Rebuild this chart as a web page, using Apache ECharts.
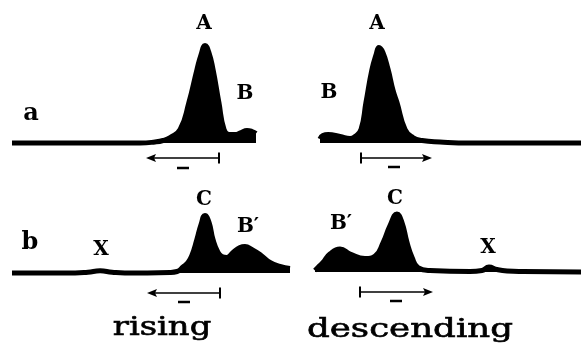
<!DOCTYPE html>
<html>
<head>
<meta charset="utf-8">
<title>rising / descending</title>
<script src="https://cdn.jsdelivr.net/npm/echarts@6/dist/echarts.min.js"></script>
<style>
body{ margin:0; background:#fff; }
#main{ width:581px; height:347px; }
</style>
</head>
<body>
<div id="main"></div>
<script type="text/javascript">
// profiles, position 0-100 across each trace, height with peak A ~ 100
var aRiseX = [0, 52.5, 58.6, 61.9, 64.8, 68.9, 72.5, 75.8, 77.5, 79.1, 80.7, 82.4, 84.8, 86.9, 88.9, 91.4, 93.9, 96.3, 98.4, 100];
var aRiseY = [0, 0, 1, 2.5, 5.5, 13.5, 40.5, 73.5, 88.5, 97.5, 90.5, 73.5, 40.5, 13.5, 8.5, 8.5, 10.5, 12.5, 11.5, 9.5];

var aDescX = [0, 1.1, 3.1, 7.7, 11.5, 13.4, 15.7, 17.6, 19.9, 21.5, 22.6, 24.1, 26.1, 28.0, 29.5, 32.6, 35.6, 39.1, 46.0, 57.5, 100];
var aDescY = [4, 7.5, 8.5, 6.5, 4.5, 6.5, 13.5, 40.5, 73.5, 88.5, 95.5, 90.5, 73.5, 52.5, 40.5, 13.5, 5.5, 2.5, 1, 0, 0];

var bRiseX = [0, 22.7, 27.3, 31.7, 36.0, 40.6, 56.8, 59.4, 61.5, 63.3, 64.7, 66.5, 68.0, 69.4, 70.9, 72.3, 74.1, 75.5, 77.3, 79.5, 82.0, 83.8, 86.3, 89.2, 92.8, 96.4, 100];
var bRiseY = [0, 0, 0.8, 2.2, 0.8, 0, 0.5, 1.5, 6, 10.5, 17.5, 33.5, 48.5, 57.5, 50.5, 33.5, 20.5, 16.5, 15.5, 20.5, 25.5, 26.5, 23.5, 18.5, 10.5, 6.5, 4.5];

var bDescX = [0, 1.1, 3.0, 5.6, 9.4, 13.2, 18.8, 22.6, 25.6, 28.2, 30.8, 32.7, 34.6, 36.5, 38.7, 43.2, 58.3, 62.8, 65.4, 68.4, 72.2, 78.2, 100];
var bDescY = [1.5, 4.5, 9.5, 18, 23, 18, 13.5, 16, 29.5, 46.5, 58, 49.5, 29.5, 14.5, 4.5, 1.5, 0.5, 1.5, 5, 2.5, 1, 0.5, 0];

var peakLabels = [
  ['A', 204, 24], ['B', 245, 94], ['A', 377, 24], ['B', 329, 93],
  ['C', 204, 200], ['B\u2032', 248, 227], ['X', 101, 250],
  ['B\u2032', 341, 224], ['C', 395, 199], ['X', 488, 248]
];
var rowLabels = [['a', 31, 114], ['b', 30, 243]];
var colLabels = [['rising', 162, 328], ['descending', 410, 330]];

// arrows: [y, tail bar x, head x]
var arrows = [[158, 219, 146], [158, 361, 432], [293, 220, 147], [292, 360, 433]];
var minusMarks = [[183, 168], [394, 167], [184, 302], [396, 301]];

function pairs(xs, ys){
  var out = [];
  for (var i = 0; i < xs.length; i++) out.push([xs[i], ys[i]]);
  return out;
}

var grids = [
  {left: 12, top: 43, width: 244, height: 100},
  {left: 320, top: 43, width: 261, height: 100},
  {left: 12, top: 173, width: 278, height: 100},
  {left: 315, top: 172, width: 266, height: 100}
];
var traces = [pairs(aRiseX, aRiseY), pairs(aDescX, aDescY), pairs(bRiseX, bRiseY), pairs(bDescX, bDescY)];

var xAxes = [], yAxes = [], series = [];
for (var i = 0; i < 4; i++) {
  xAxes.push({type: 'value', gridIndex: i, min: 0, max: 100, show: false});
  yAxes.push({type: 'value', gridIndex: i, min: 0, max: 100, show: false});
  series.push({
    type: 'line', xAxisIndex: i, yAxisIndex: i,
    data: traces[i], symbol: 'none', smooth: 0.5,
    clip: false, silent: true,
    lineStyle: {color: '#000', width: 5, cap: 'butt', join: 'round'},
    areaStyle: {color: '#000', opacity: 1}
  });
}

var txt = {fill: '#000', font: 'bold 20px "DejaVu Serif"', textAlign: 'center', textVerticalAlign: 'middle'};
var colStretch = [1.3, 1.37];
var graphics = [];
peakLabels.forEach(function(l){
  graphics.push({type: 'text', x: l[1], y: l[2], style: Object.assign({}, txt, {text: l[0]})});
});
rowLabels.forEach(function(l){
  graphics.push({type: 'text', x: l[1], y: l[2], style: Object.assign({}, txt, {text: l[0], font: 'bold 24px "DejaVu Serif"'})});
});
colLabels.forEach(function(l, k){
  graphics.push({type: 'text', x: l[1], y: l[2], scaleX: colStretch[k], style: Object.assign({}, txt, {text: l[0], font: '500 26px "DejaVu Serif"', stroke: '#000', lineWidth: 0.6})});
});
arrows.forEach(function(a){
  var dir = a[2] > a[1] ? 1 : -1;
  graphics.push({type: 'line', shape: {x1: a[1], y1: a[0], x2: a[2] - dir * 6, y2: a[0]}, style: {stroke: '#000', lineWidth: 1.5}});
  graphics.push({type: 'line', shape: {x1: a[1], y1: a[0] - 5.5, x2: a[1], y2: a[0] + 5.5}, style: {stroke: '#000', lineWidth: 2}});
  graphics.push({type: 'polygon', shape: {points: [[a[2], a[0]], [a[2] - dir * 10, a[0] - 4], [a[2] - dir * 8, a[0]], [a[2] - dir * 10, a[0] + 4]]}, style: {fill: '#000'}});
});
minusMarks.forEach(function(m){
  graphics.push({type: 'line', shape: {x1: m[0] - 6, y1: m[1], x2: m[0] + 6, y2: m[1]}, style: {stroke: '#000', lineWidth: 2.5}});
});

var chart = echarts.init(document.getElementById('main'), null, {renderer: 'canvas'});
chart.setOption({
  animation: false,
  backgroundColor: '#fff',
  grid: grids,
  xAxis: xAxes,
  yAxis: yAxes,
  series: series,
  graphic: graphics
});
</script>
</body>
</html>
